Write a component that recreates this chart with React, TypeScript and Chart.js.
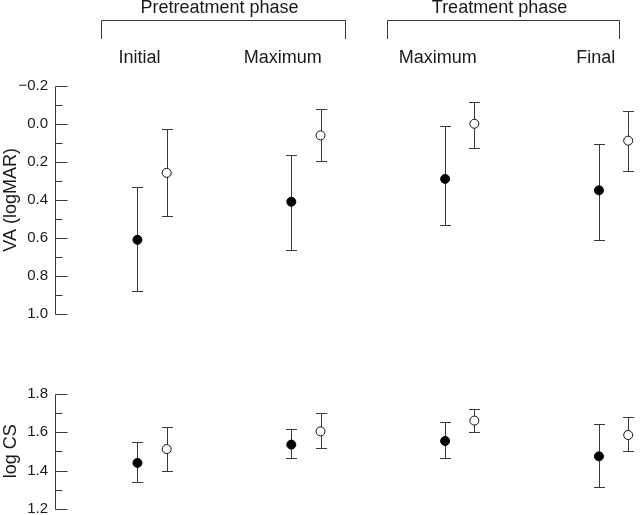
import React, { useEffect, useRef } from 'react';
import { Chart, registerables } from 'chart.js';

Chart.register(...registerables);

// ---- data ----
const GROUPS = ['Initial', 'Maximum', 'Maximum', 'Final'];
const PHASES = ['Pretreatment phase', 'Treatment phase'];
const PHASE_START = [-0.24, 1.62];
const PHASE_END = [1.35, 3.13];

const VA_FILLED = [0.61, 0.41, 0.29, 0.35];
const VA_FILLED_LO = [0.335, 0.166, 0.014, 0.106];
const VA_FILLED_HI = [0.878, 0.663, 0.534, 0.609];
const VA_OPEN = [0.258, 0.061, 0.0, 0.089];
const VA_OPEN_LO = [0.025, -0.077, -0.115, -0.068];
const VA_OPEN_HI = [0.485, 0.195, 0.129, 0.25];

const CS_FILLED = [1.44, 1.535, 1.554, 1.474];
const CS_FILLED_LO = [1.338, 1.467, 1.467, 1.313];
const CS_FILLED_HI = [1.551, 1.615, 1.654, 1.644];
const CS_OPEN = [1.512, 1.604, 1.66, 1.585];
const CS_OPEN_LO = [1.4, 1.517, 1.6, 1.5];
const CS_OPEN_HI = [1.627, 1.7, 1.722, 1.679];

const VA_TICKS = [-0.2, 0, 0.2, 0.4, 0.6, 0.8, 1.0];
const CS_TICKS = [1.2, 1.4, 1.6, 1.8];

// ---- layout / style ----
const X_MIN = -0.536;
const X_MAX = 3.231;
const OPEN_SHIFT = 0.19;
const LABEL_OFFSETS = [0.013, -0.055, -0.048, -0.021];
const FONT = "'Liberation Sans', Arial, Helvetica, sans-serif";
const TEXT = '#1a1a1a';
const LINE = '#3a3a3a';

const fmt = (v: number) => {
  const s = Number(v).toFixed(1);
  return s.startsWith('-') ? '\u2212' + s.slice(1) : s;
};

const errorBarPlugin = {
  id: 'errorBars',
  beforeDatasetsDraw(chart: any) {
    const { ctx } = chart;
    const xs = chart.scales.x;
    const ys = chart.scales.y;
    ctx.save();
    ctx.strokeStyle = LINE;
    ctx.lineWidth = 1;
    chart.data.datasets.forEach((ds: any) => {
      ds.data.forEach((pt: any, i: number) => {
        const px = Math.round(xs.getPixelForValue(pt.x)) + 0.5;
        const y1 = Math.round(ys.getPixelForValue(ds.errLo[i])) + 0.5;
        const y2 = Math.round(ys.getPixelForValue(ds.errHi[i])) + 0.5;
        ctx.beginPath();
        ctx.moveTo(px, y1);
        ctx.lineTo(px, y2);
        ctx.moveTo(px - 5.5, y1);
        ctx.lineTo(px + 5.5, y1);
        ctx.moveTo(px - 5.5, y2);
        ctx.lineTo(px + 5.5, y2);
        ctx.stroke();
      });
    });
    ctx.restore();
  },
};

const axisPlugin = {
  id: 'inwardAxis',
  afterDraw(chart: any) {
    const { ctx } = chart;
    const ys = chart.scales.y;
    const ticks: number[] = chart.options.plugins.inwardAxis.ticks;
    const x = Math.round(chart.chartArea.left) + 0.5;
    ctx.save();
    ctx.strokeStyle = LINE;
    ctx.lineWidth = 1;
    ctx.beginPath();
    const yTop = Math.round(ys.getPixelForValue(ticks[0])) + 0.5;
    const yBot = Math.round(ys.getPixelForValue(ticks[ticks.length - 1])) + 0.5;
    ctx.moveTo(x, Math.min(yTop, yBot));
    ctx.lineTo(x, Math.max(yTop, yBot));
    ticks.forEach((t, i) => {
      const y = Math.round(ys.getPixelForValue(t)) + 0.5;
      ctx.moveTo(x, y);
      ctx.lineTo(x + 12, y);
      if (i < ticks.length - 1) {
        const m = (t + ticks[i + 1]) / 2;
        const ym = Math.round(ys.getPixelForValue(m)) + 0.5;
        ctx.moveTo(x, ym);
        ctx.lineTo(x + 7, ym);
      }
    });
    ctx.stroke();
    ctx.restore();
  },
};

const headerPlugin = {
  id: 'phaseHeaders',
  afterDraw(chart: any) {
    if (!chart.options.plugins.phaseHeaders.show) return;
    const { ctx } = chart;
    const xs = chart.scales.x;
    ctx.save();
    ctx.strokeStyle = LINE;
    ctx.lineWidth = 1;
    ctx.fillStyle = TEXT;
    ctx.font = `18px ${FONT}`;
    ctx.textAlign = 'center';
    ctx.textBaseline = 'alphabetic';
    PHASES.forEach((label, i) => {
      const x1 = Math.round(xs.getPixelForValue(PHASE_START[i])) + 0.5;
      const x2 = Math.round(xs.getPixelForValue(PHASE_END[i])) + 0.5;
      ctx.beginPath();
      ctx.moveTo(x1, 39);
      ctx.lineTo(x1, 20.5);
      ctx.lineTo(x2, 20.5);
      ctx.lineTo(x2, 39);
      ctx.stroke();
      ctx.fillText(label, (x1 + x2) / 2 - 4, 12.5);
    });
    ctx.restore();
  },
};

function makeDatasets(filled: number[], fLo: number[], fHi: number[], open: number[], oLo: number[], oHi: number[]) {
  return [
    {
      label: 'filled',
      data: filled.map((v, i) => ({ x: i, y: v })),
      errLo: fLo,
      errHi: fHi,
      pointRadius: 4.5,
      pointBackgroundColor: '#000',
      pointBorderColor: '#000',
      pointBorderWidth: 1,
      showLine: false,
    },
    {
      label: 'open',
      data: open.map((v, i) => ({ x: i + OPEN_SHIFT, y: v })),
      errLo: oLo,
      errHi: oHi,
      pointRadius: 4.5,
      pointBackgroundColor: '#fff',
      pointBorderColor: '#111',
      pointBorderWidth: 1,
      showLine: false,
    },
  ];
}

function yAxis(ticks: number[], reverse: boolean, title: string) {
  return {
    type: 'linear',
    reverse,
    min: Math.min(...ticks),
    max: Math.max(...ticks),
    afterBuildTicks: (s: any) => {
      s.ticks = ticks.map((v) => ({ value: v }));
    },
    afterFit: (s: any) => {
      s.width = 55;
    },
    grid: { display: false, drawTicks: false },
    border: { display: false },
    ticks: { padding: 7, font: { size: 15, family: FONT }, color: TEXT, callback: (v: number) => fmt(v) },
    title: { display: true, text: title, font: { size: 18, family: FONT }, color: TEXT, padding: 0 },
  };
}

export default function App() {
  const topRef = useRef<HTMLCanvasElement>(null);
  const botRef = useRef<HTMLCanvasElement>(null);

  useEffect(() => {
    Chart.defaults.font.family = FONT;
    Chart.defaults.color = TEXT;

    const top = new Chart(topRef.current as HTMLCanvasElement, {
      type: 'scatter',
      data: { datasets: makeDatasets(VA_FILLED, VA_FILLED_LO, VA_FILLED_HI, VA_OPEN, VA_OPEN_LO, VA_OPEN_HI) as any },
      options: {
        responsive: false,
        animation: false,
        layout: { padding: { top: 42, bottom: 15.5, left: 0, right: 0 } },
        plugins: {
          legend: { display: false },
          tooltip: { enabled: false },
          inwardAxis: { ticks: VA_TICKS },
          phaseHeaders: { show: true },
        } as any,
        scales: {
          x: {
            type: 'linear',
            position: 'top',
            min: X_MIN,
            max: X_MAX,
            afterBuildTicks: (s: any) => {
              s.ticks = GROUPS.map((_, i) => ({ value: i + LABEL_OFFSETS[i] }));
            },
            afterFit: (s: any) => {
              s.height = 43.7;
            },
            grid: { display: false, drawTicks: false },
            border: { display: false },
            ticks: {
              padding: 17,
              autoSkip: false,
              maxRotation: 0,
              font: { size: 18, family: FONT },
              color: TEXT,
              callback: (_v: any, i: number) => GROUPS[i],
            },
          },
          y: yAxis(VA_TICKS, true, 'VA (logMAR)'),
        } as any,
      },
      plugins: [errorBarPlugin, axisPlugin, headerPlugin],
    });

    const bot = new Chart(botRef.current as HTMLCanvasElement, {
      type: 'scatter',
      data: { datasets: makeDatasets(CS_FILLED, CS_FILLED_LO, CS_FILLED_HI, CS_OPEN, CS_OPEN_LO, CS_OPEN_HI) as any },
      options: {
        responsive: false,
        animation: false,
        layout: { padding: { top: 63.7, bottom: 16, left: 0, right: 0 } },
        plugins: {
          legend: { display: false },
          tooltip: { enabled: false },
          inwardAxis: { ticks: CS_TICKS },
          phaseHeaders: { show: false },
        } as any,
        scales: {
          x: { type: 'linear', display: false, min: X_MIN, max: X_MAX },
          y: yAxis(CS_TICKS, false, 'log CS'),
        } as any,
      },
      plugins: [errorBarPlugin, axisPlugin, headerPlugin],
    });

    return () => {
      top.destroy();
      bot.destroy();
    };
  }, []);

  return (
    <div style={{ position: 'absolute', left: 0, top: 0, width: 640, height: 515, overflow: 'hidden', background: '#fff' }}>
      <canvas ref={topRef} width={640} height={330} style={{ position: 'absolute', left: 0, top: 0, display: 'block' }} />
      <canvas ref={botRef} width={640} height={195} style={{ position: 'absolute', left: 0, top: 330, display: 'block' }} />
    </div>
  );
}
